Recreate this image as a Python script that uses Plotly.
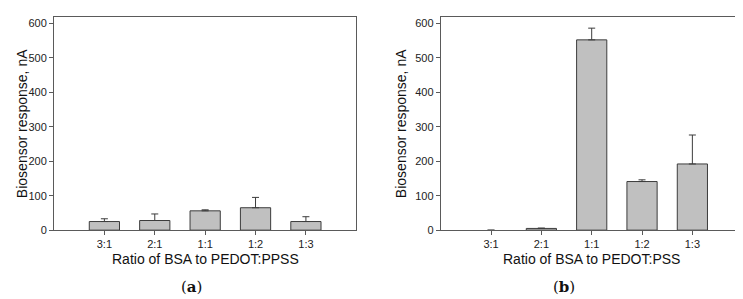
import plotly.graph_objects as go

categories = ["3:1", "2:1", "1:1", "1:2", "1:3"]
resp_a = [25, 28, 56, 65, 25]
err_a = [8, 19, 3, 30, 14]
resp_b = [0, 5, 552, 141, 192]
err_b = [0, 1, 34, 5, 84]
y_ticks = [0, 100, 200, 300, 400, 500, 600]

W, H = 743, 299
FRAME = "#5a5a5a"
BAR_FILL = "#c0c0c0"
BAR_LINE = "#3c3c3c"
FONT = "Liberation Sans, Arial, sans-serif"

fig = go.Figure()
for vals, errs, xa, ya in [(resp_a, err_a, "x", "y"), (resp_b, err_b, "x2", "y2")]:
    # no cap or outline drawn for empty (zero) bars
    errs_drawn = [e if v > 0 else None for v, e in zip(vals, errs)]
    line_w = [1 if v > 0 else 0 for v in vals]
    fig.add_trace(go.Bar(
        x=categories, y=vals, xaxis=xa, yaxis=ya, width=0.6,
        marker=dict(color=BAR_FILL, line=dict(color=BAR_LINE, width=line_w)),
        error_y=dict(type="data", array=errs_drawn, symmetric=False, arrayminus=[0]*5,
                     color=BAR_LINE, thickness=1, width=3.5),
        showlegend=False, hoverinfo="skip",
    ))

def px_x(p):
    return p / W

def px_y(p):
    return 1 - p / H

ydom = [px_y(226.7), px_y(9.3)]
xdom_a = [px_x(46), px_x(348.3)]
xdom_b = [px_x(432.7), px_x(734.7)]

axis_common = dict(showline=True, linecolor=FRAME, linewidth=1, mirror=True,
                   ticks="outside", ticklen=4, tickcolor=FRAME, tickwidth=1,
                   showgrid=False, zeroline=False,
                   tickfont=dict(family=FONT, size=11, color="#222"))

fig.update_layout(
    width=W, height=H, margin=dict(l=0, r=0, t=0, b=0),
    plot_bgcolor="white", paper_bgcolor="white",
    bargap=0.4,
    xaxis=dict(domain=xdom_a, anchor="y", type="category", range=[-1, 5], **axis_common),
    yaxis=dict(domain=ydom, anchor="x", range=[0, 618], tickvals=y_ticks, **axis_common),
    xaxis2=dict(domain=xdom_b, anchor="y2", type="category", range=[-1, 5], **axis_common),
    yaxis2=dict(domain=ydom, anchor="x2", range=[0, 618], tickvals=y_ticks, **axis_common),
)

ann = []
title_font = dict(family=FONT, size=14, color="#111")
for (cx, label) in [((46 + 348.3) / 2, "Ratio of BSA to PEDOT:PPSS"),
                    ((432.7 + 734.7) / 2, "Ratio of BSA to PEDOT:PSS")]:
    ann.append(dict(x=px_x(cx), y=px_y(256.5), xref="paper", yref="paper",
                    text=label, showarrow=False, font=title_font,
                    xanchor="center", yanchor="middle"))
for cx in [13.5, 392.5]:
    ann.append(dict(x=px_x(cx), y=px_y(118), xref="paper", yref="paper",
                    text="Biosensor response, nA", showarrow=False, font=title_font,
                    textangle=-90, xanchor="center", yanchor="middle"))
cap_font = dict(family="DejaVu Serif, Liberation Serif, serif", size=15, color="#111")
for cx, letter in [(183.5, "a"), (556, "b")]:
    ann.append(dict(x=px_x(cx), y=px_y(285), xref="paper", yref="paper",
                    text="(<b>%s</b>)" % letter, showarrow=False, font=cap_font,
                    xanchor="center", yanchor="middle"))
fig.update_layout(annotations=ann)

fig.write_html("out.html")
